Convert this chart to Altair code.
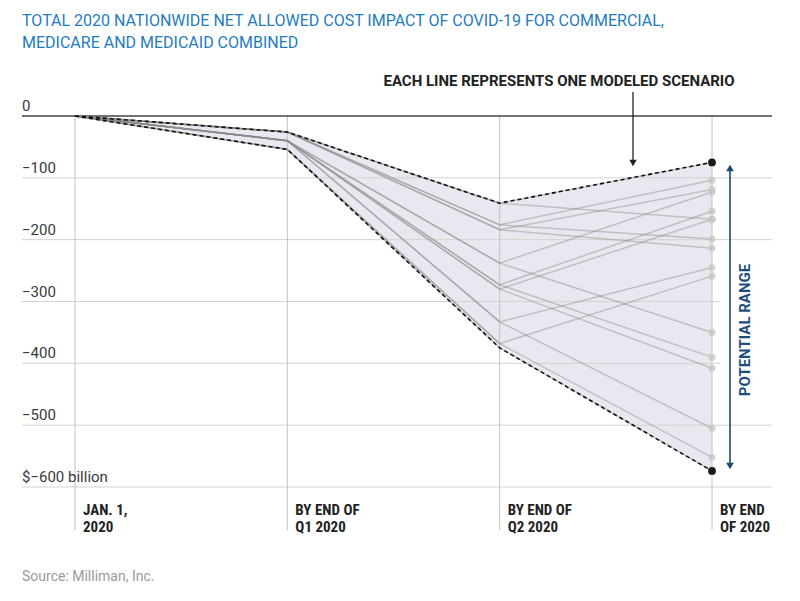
import altair as alt
import pandas as pd

# ---------------- data ----------------
period_idx = [0, 1, 2, 3]
period_line1 = ["JAN. 1,", "BY END OF", "BY END OF", "BY END"]
period_line2 = ["2020", "Q1 2020", "Q2 2020", "OF 2020"]

# each modeled scenario: value at Jan 1 is 0
scen_q1 = [-26, -26, -26, -26, -26, -26, -40, -40, -40, -40, -40, -40, -40, -40, -54, -54, -54]
scen_q2 = [-141, -141, -176, -176, -184, -184, -238, -238, -273, -273, -280, -280, -333, -333, -368, -368, -375]
scen_end = [-75, -167, -104, -199, -119, -214, -123, -350, -154, -390, -167, -408, -245, -505, -259, -552, -574]

y_ticks = [0, -100, -200, -300, -400, -500, -600]
y_tick_labels = ["0", "\u2212100", "\u2212200", "\u2212300", "\u2212400", "\u2212500", "$\u2212600 billion"]

title_lines = ["TOTAL 2020 NATIONWIDE NET ALLOWED COST IMPACT OF COVID-19 FOR COMMERCIAL,",
               "MEDICARE AND MEDICAID COMBINED"]
annotation = "EACH LINE REPRESENTS ONE MODELED SCENARIO"
range_label = "POTENTIAL RANGE"
source = "Source: Milliman, Inc."

# ---------------- tables ----------------
rows = []
for i, (a, b, c) in enumerate(zip(scen_q1, scen_q2, scen_end)):
    for p, v in zip(period_idx, [0, a, b, c]):
        rows.append({"scenario": i, "period": p, "value": v})
df = pd.DataFrame(rows)

env = df.groupby("period")["value"].agg(["max", "min"]).reset_index()
env.columns = ["period", "top", "bottom"]
end_df = df[df["period"] == 3].reset_index(drop=True)
ext_df = end_df[end_df["value"].isin([end_df["value"].max(), end_df["value"].min()])].reset_index(drop=True)
periods_df = pd.DataFrame({"period": period_idx, "l1": period_line1, "l2": period_line2})
ticks_df = pd.DataFrame({"v": y_ticks, "label": y_tick_labels})
grid_df = ticks_df[ticks_df["v"] != 0].reset_index(drop=True)
zero_df = ticks_df[ticks_df["v"] == 0].reset_index(drop=True)

FONT = "Roboto, sans-serif"
FONT_N = "Liberation Sans Narrow, Roboto Condensed, Arial Narrow, Roboto, sans-serif"

xs = alt.Scale(domain=[0, 3], range=[67, 704], nice=False, zero=False)
ys = alt.Scale(domain=[-600, 0], range=[479, 108], nice=False, zero=False)


def X(f):
    return alt.X(f, type="quantitative", scale=xs, axis=None)


def Y(f):
    return alt.Y(f, type="quantitative", scale=ys, axis=None)


one = pd.DataFrame({"a": [0]})

area = alt.Chart(env).mark_area(color="#e8e9f0").encode(
    x=X("period"), y=Y("top"), y2=alt.Y2("bottom"))

hgrid = alt.Chart(grid_df).mark_rule(color="#d2d2d2", strokeWidth=1).encode(
    y=Y("v"), x=alt.value(14), x2=alt.value(764))

blank = alt.Chart(one).mark_rect(color="white").encode(
    x=alt.value(712), x2=alt.value(784), y=alt.value(247), y2=alt.value(397))

vgrid = alt.Chart(periods_df).mark_rule(color="#c2c2c2", strokeWidth=1).encode(
    x=X("period"), y=alt.value(108), y2=alt.value(522))

zero = alt.Chart(zero_df).mark_rule(color="#444444", strokeWidth=1.3).encode(
    y=Y("v"), x=alt.value(14), x2=alt.value(764))

lines = alt.Chart(df).mark_line(color="#888888", opacity=0.42, strokeWidth=1.5).encode(
    x=X("period"), y=Y("value"), detail="scenario:N")

dash_top = alt.Chart(env).mark_line(color="#111111", strokeWidth=1.6, strokeDash=[4, 3]).encode(
    x=X("period"), y=Y("top"))
dash_bot = alt.Chart(env).mark_line(color="#111111", strokeWidth=1.6, strokeDash=[4, 3]).encode(
    x=X("period"), y=Y("bottom"))

end_dots = alt.Chart(end_df).mark_circle(color="#c4c4c4", opacity=0.7, size=52).encode(
    x=X("period"), y=Y("value"))
ext_dots = alt.Chart(ext_df).mark_circle(color="#1a1a1a", opacity=1, size=60).encode(
    x=X("period"), y=Y("value"))

ylabels = alt.Chart(ticks_df).mark_text(
    align="left", baseline="alphabetic", dy=-5, fontSize=15, font=FONT, color="#3a3a3a").encode(
    y=Y("v"), x=alt.value(14), text="label:N")

xl1 = alt.Chart(periods_df).mark_text(
    align="left", baseline="alphabetic", dx=8, fontSize=15, fontWeight="bold", font=FONT_N, color="#222222").encode(
    x=X("period"), y=alt.value(507), text="l1:N")
xl2 = alt.Chart(periods_df).mark_text(
    align="left", baseline="alphabetic", dx=8, fontSize=15, fontWeight="bold", font=FONT_N, color="#222222").encode(
    x=X("period"), y=alt.value(524), text="l2:N")

t1 = alt.Chart(pd.DataFrame({"t": [title_lines[0]]})).mark_text(
    align="left", baseline="alphabetic", fontSize=16, font=FONT, color="#1f7cc1").encode(
    x=alt.value(14), y=alt.value(18), text="t:N")
t2 = alt.Chart(pd.DataFrame({"t": [title_lines[1]]})).mark_text(
    align="left", baseline="alphabetic", fontSize=16, font=FONT, color="#1f7cc1").encode(
    x=alt.value(14), y=alt.value(40), text="t:N")

ann = alt.Chart(pd.DataFrame({"t": [annotation]})).mark_text(
    align="center", baseline="alphabetic", fontSize=15, fontWeight="bold", font=FONT, color="#222222").encode(
    x=alt.value(551), y=alt.value(78), text="t:N")
ann_line = alt.Chart(one).mark_rule(color="#222222", strokeWidth=1.3).encode(
    x=alt.value(625), y=alt.value(84), y2=alt.value(153))
ann_head = alt.Chart(one).mark_point(shape="triangle-down", filled=True, color="#222222", size=55, opacity=1).encode(
    x=alt.value(625), y=alt.value(155))

rng_line = alt.Chart(one).mark_rule(color="#1b4a73", strokeWidth=1.6).encode(
    x=alt.value(722), y=alt.value(160), y2=alt.value(458))
rng_up = alt.Chart(one).mark_point(shape="triangle-up", filled=True, color="#1b4a73", size=60, opacity=1).encode(
    x=alt.value(722), y=alt.value(160))
rng_dn = alt.Chart(one).mark_point(shape="triangle-down", filled=True, color="#1b4a73", size=60, opacity=1).encode(
    x=alt.value(722), y=alt.value(458))
rng_txt = alt.Chart(pd.DataFrame({"t": [range_label]})).mark_text(
    angle=270, align="center", baseline="middle", fontSize=15, fontWeight="bold", font=FONT, color="#1d4e79").encode(
    x=alt.value(737), y=alt.value(322), text="t:N")

src = alt.Chart(pd.DataFrame({"t": [source]})).mark_text(
    align="left", baseline="alphabetic", fontSize=14, font=FONT, color="#9a9a9a").encode(
    x=alt.value(14), y=alt.value(573), text="t:N")

chart = alt.layer(
    area, hgrid, blank, vgrid, zero, lines, dash_top, dash_bot, end_dots, ext_dots,
    ylabels, xl1, xl2, t1, t2, ann, ann_line, ann_head, rng_line, rng_up, rng_dn, rng_txt, src
).properties(width=784, height=580, padding=0, autosize="none").configure_view(stroke=None)

chart.save("out.html", embed_options={"renderer": "svg", "actions": False})
